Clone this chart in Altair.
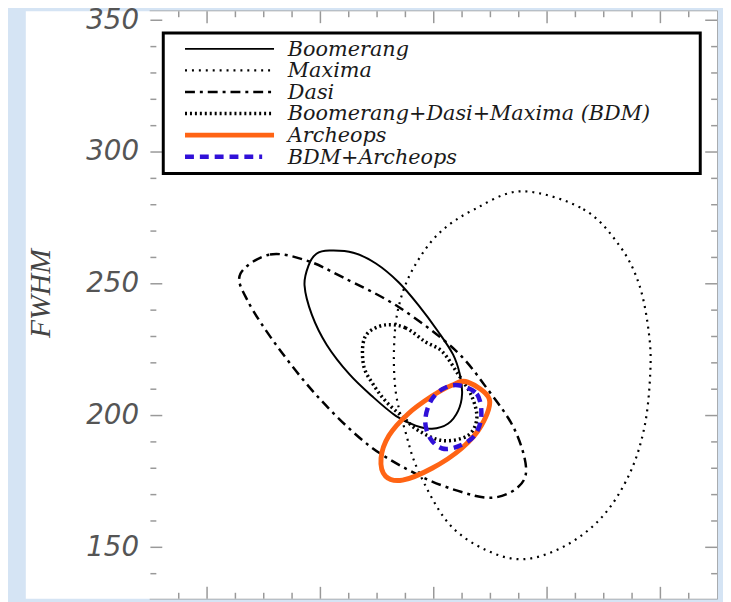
import altair as alt
import pandas as pd

# ---------------- data ----------------
X_DOMAIN = [170, 270]
Y_DOMAIN = [130.5, 353.4]

x_major = [180, 200, 220, 240, 260]
x_minor = [175, 185, 190, 195, 205, 210, 215, 225, 230, 235, 245, 250, 255, 265]
y_major = [150, 200, 250, 300, 350]
y_minor = [140, 160, 170, 180, 190, 210, 220, 230, 240, 260, 270, 280, 290,
           310, 320, 330, 340]

series = ["Boomerang", "Maxima", "Dasi", "Boomerang+Dasi+Maxima (BDM)",
          "Archeops", "BDM+Archeops"]

boomerang_x = [201.6, 205.8, 209.8, 213.8, 217.3, 220.8, 223.4, 224.6, 225.0,
               224.3, 222.5, 219.7, 216.8, 213.3, 209.3, 205.1, 201.1, 198.5,
               197.2, 197.9, 199.3]
boomerang_y = [262.6, 261.8, 257.7, 250.6, 241.9, 231.8, 223.2, 215.7, 208.2,
               201.8, 196.9, 195.0, 196.2, 199.9, 207.0, 215.7, 226.9, 238.2,
               249.4, 256.9, 261.4]

maxima_x = [235.6, 246.4, 252.8, 256.3, 258.0, 258.2, 257.2, 254.6, 249.9, 243.4,
            235.9, 229.0, 222.5, 217.3, 215.0, 213.3, 213.0, 213.8, 216.2, 220.8,
            227.2]
maxima_y = [285.1, 278.3, 264.4, 249.4, 230.7, 215.7, 195.8, 178.1, 162.0, 150.8,
            145.5, 149.2, 159.4, 178.9, 193.9, 208.9, 226.2, 241.2, 255.1, 268.9,
            278.3]

dasi_x = [185.9, 191.1, 197.6, 204.0, 213.8, 223.7, 229.5, 234.2, 236.3, 234.7,
          230.2, 224.3, 217.3, 208.6, 199.9, 192.4, 187.1]
dasi_y = [253.9, 261.1, 258.8, 252.4, 241.2, 225.0, 210.0, 195.0, 180.0, 172.5,
          168.8, 171.4, 177.4, 188.6, 206.3, 226.2, 243.8]

bdm_x = [211.5, 215.0, 218.5, 221.5, 224.3, 226.7, 227.6, 226.0, 221.6, 217.3,
         214.5, 211.5, 209.3, 207.7, 207.5, 208.6]
bdm_y = [234.4, 233.3, 228.0, 224.3, 215.7, 207.4, 198.8, 192.4, 190.5, 194.3,
         199.5, 205.5, 211.9, 218.3, 226.9, 231.8]

archeops_x = [226.0, 229.8, 228.4, 224.9, 219.7, 214.5, 211.5, 210.7, 212.1,
              215.5, 219.7, 223.2]
archeops_y = [212.7, 206.3, 196.2, 187.5, 180.0, 175.5, 177.0, 183.8, 192.4,
              200.7, 207.4, 211.5]

bdm_arch_x = [224.3, 227.6, 228.4, 227.2, 224.3, 221.5, 219.4, 218.5, 219.4, 221.5]
bdm_arch_y = [211.5, 208.2, 199.9, 192.4, 188.3, 187.5, 191.3, 197.7, 205.2, 210.0]

# ---------------- styles ----------------
W, H = 573, 594
styles = [
    dict(color="#000000", width=2.0, dash=None),
    dict(color="#000000", width=2.2, dash=[2, 5]),
    dict(color="#000000", width=2.5, dash=[10, 5, 3, 5]),
    dict(color="#000000", width=3.5, dash=[2, 3]),
    dict(color="#ff6414", width=5.0, dash=None),
    dict(color="#3010d8", width=4.5, dash=[9, 6]),
]
contours = [(boomerang_x, boomerang_y), (maxima_x, maxima_y), (dasi_x, dasi_y),
            (bdm_x, bdm_y), (archeops_x, archeops_y), (bdm_arch_x, bdm_arch_y)]

xs = alt.Scale(domain=X_DOMAIN, nice=False, zero=False)
ys = alt.Scale(domain=Y_DOMAIN, nice=False, zero=False)

y_axis = alt.Axis(values=y_major, labelFont="DejaVu Sans", labelFontStyle="italic",
                  labelFontSize=28, labelColor="#555555", ticks=False, domain=False,
                  grid=False, labelPadding=12, labelFlush=False,
                  title="FWHM", titleFont="Liberation Serif", titleFontStyle="italic",
                  titleFontWeight="normal", titleFontSize=30, titleColor="#444444",
                  titleAngle=270, titleX=-102, titleY=285, titleBaseline="alphabetic",
                  titleAlign="center", zindex=1)

one = pd.DataFrame({"a": [0]})
layers = []

# white page area behind the plot
layers.append(alt.Chart(one).mark_rect(color="white").encode(
    x=alt.value(-126), x2=alt.value(W), y=alt.value(0), y2=alt.value(H)))

# contours
for (cx, cy), st in zip(contours, styles):
    df = pd.DataFrame({"x": cx, "y": cy, "i": list(range(len(cx)))})
    kw = dict(color=st["color"], strokeWidth=st["width"], interpolate="cardinal-closed")
    if st["dash"]:
        kw["strokeDash"] = st["dash"]
    layers.append(alt.Chart(df).mark_line(**kw).encode(
        x=alt.X("x:Q", scale=xs, axis=None),
        y=alt.Y("y:Q", scale=ys, axis=y_axis),
        order="i:Q"))

# inward tick marks
tick_col = "#999999"
for vals, ln in [(y_major, 12), (y_minor, 6)]:
    d = pd.DataFrame({"v": vals})
    layers.append(alt.Chart(d).mark_rule(color=tick_col, strokeWidth=1.5).encode(
        y=alt.Y("v:Q", scale=ys, axis=y_axis), x=alt.value(0), x2=alt.value(ln)))
    layers.append(alt.Chart(d).mark_rule(color=tick_col, strokeWidth=1.5).encode(
        y=alt.Y("v:Q", scale=ys, axis=y_axis), x=alt.value(W - ln), x2=alt.value(W)))
for vals, ln in [(x_major, 12), (x_minor, 6)]:
    d = pd.DataFrame({"v": vals})
    layers.append(alt.Chart(d).mark_rule(color=tick_col, strokeWidth=1.5).encode(
        x=alt.X("v:Q", scale=xs, axis=None), y=alt.value(0), y2=alt.value(ln)))
    layers.append(alt.Chart(d).mark_rule(color=tick_col, strokeWidth=1.5).encode(
        x=alt.X("v:Q", scale=xs, axis=None), y=alt.value(H - ln), y2=alt.value(H)))

# legend box
layers.append(alt.Chart(one).mark_rect(fill="white", stroke="black", strokeWidth=3).encode(
    x=alt.value(13), x2=alt.value(556), y=alt.value(22), y2=alt.value(164)))

for i, (name, st) in enumerate(zip(series, styles)):
    ry = 38 + 21.8 * i
    kw = dict(color=st["color"], strokeWidth=st["width"])
    if st["dash"]:
        kw["strokeDash"] = st["dash"]
    x_end = 113 if i == 5 else 125
    layers.append(alt.Chart(one).mark_rule(**kw).encode(
        x=alt.value(35), x2=alt.value(x_end), y=alt.value(ry)))
    layers.append(alt.Chart(pd.DataFrame({"t": [name]})).mark_text(
        align="left", baseline="middle", font="DejaVu Serif", fontStyle="italic",
        fontSize=21, color="#1a1a1a").encode(
        text="t:N", x=alt.value(139), y=alt.value(ry + 1)))

chart = alt.layer(*layers).properties(
    width=W, height=H,
    padding={"left": 144, "top": 0, "right": 6, "bottom": 0},
    autosize=alt.AutoSizeParams(type="none"),
    background="#d5e4f4",
).configure_view(stroke="#999999", strokeWidth=1.5)

chart.save("out.html", embed_options={"renderer": "svg", "actions": False})
